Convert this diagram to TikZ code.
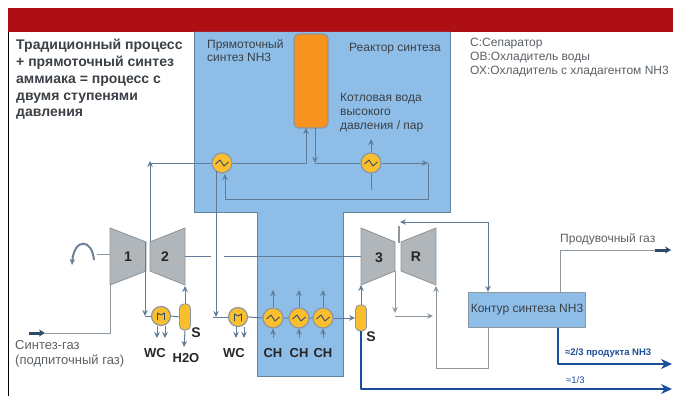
\documentclass[tikz,border=0pt]{standalone}
\usepackage{fontspec}
\setmainfont{Liberation Sans}
\usetikzlibrary{arrows.meta}
\definecolor{redbar}{HTML}{AE0F14}
\definecolor{blueback}{HTML}{8EBEE8}
\definecolor{blueedge}{HTML}{64859F}
\definecolor{pipe}{HTML}{5E7C98}
\definecolor{greypipe}{HTML}{8C979F}
\definecolor{bodygrey}{HTML}{B1B6BA}
\definecolor{orangebox}{HTML}{F7931E}
\definecolor{yellowbox}{HTML}{FBBF2D}
\definecolor{navy}{HTML}{1C4E9C}
\definecolor{darkpipe}{HTML}{2F4A68}
\definecolor{txt}{HTML}{3A4046}
\definecolor{lighttxt}{HTML}{5A6066}
\tikzset{
	pipeline/.style={draw=pipe, line width=1pt},
	greyline/.style={draw=greypipe, line width=1pt},
	mainline/.style={draw=navy, line width=2pt},
	exchanger/.style={circle, draw=greypipe, line width=1.2pt, fill=yellowbox, minimum size=20pt, inner sep=0pt,
		path picture={\draw[darkpipe, line width=0.9pt] (path picture bounding box.center)+(-6.5,1)--+(-2,-3)--+(2,3)--+(6.5,-1);}},
	cooler/.style={circle, draw=greypipe, line width=1.2pt, fill=yellowbox, minimum size=19pt, inner sep=0pt,
		path picture={\draw[darkpipe, line width=0.9pt] (path picture bounding box.center)+(-3.5,4)--+(-3.5,-3)--+(0,-1)--+(3.5,-3)--+(3.5,4);}},
	separator/.style={rectangle, rounded corners=4.5pt, draw=greypipe, fill=yellowbox, line width=0.9pt, minimum width=11pt, minimum height=26pt, inner sep=0pt},
	machine/.style={draw=greypipe, fill=bodygrey, line width=0.9pt},
	tag/.style={font=\bfseries\fontsize{13}{15}\selectfont, text=black!85, inner sep=0pt},
	num/.style={font=\bfseries\fontsize{14}{16}\selectfont, text=black!85, inner sep=0pt},
	note/.style={font=\fontsize{12}{14}\selectfont, text=txt, anchor=base west, inner sep=0pt},
}
\begin{document}
\begin{tikzpicture}[x=1pt, y=-1pt, line join=round, >={Stealth[length=6pt,width=5.5pt]}]
	\useasboundingbox (0,0) rectangle (673,396);
	% frame
	\fill[redbar] (8,8) rectangle (673,32);
	\draw[black, line width=0.9pt] (8,32)--(8,396);
	% reactor block
	\draw[fill=blueback, draw=blueedge, line width=0.9pt] (194,32)--(194,212)--(257,212)--(257,376)--(343,376)--(343,212)--(450,212)--(450,32);
	% texts
	\foreach \y/\t in {50/Традиционный процесс, 67/+ прямоточный синтез, 84/аммиака = процесс с, 101/двумя ступенями, 117/давления}
		\node[note, font=\bfseries\fontsize{14}{16}\selectfont] at (16,\y) {\t};
	\node[note] at (207,49) {Прямоточный};
	\node[note] at (207,62) {синтез NH3};
	\node[note] at (349,52) {Реактор синтеза};
	\node[note] at (340,102) {Котловая вода};
	\node[note] at (340,116) {высокого};
	\node[note] at (340,130) {давления / пар};
	\node[note, text=lighttxt] at (470,47) {C:Сепаратор};
	\node[note, text=lighttxt] at (470,61) {ОВ:Охладитель воды};
	\node[note, text=lighttxt] at (470,75) {ОХ:Охладитель с хладагентом NH3};
	% vessels
	\node[rectangle, rounded corners=5pt, draw=greypipe, fill=orangebox, line width=1.2pt, minimum width=34pt, minimum height=94pt, inner sep=0pt] (reactor) at (311,81) {};
	\node[exchanger] (hxa) at (222,163) {};
	\node[exchanger] (hxb) at (371,163) {};
	\node[cooler] (wca) at (161,316) {};
	\node[separator] (sepa) at (185,317) {};
	\node[cooler] (wcb) at (238,317) {};
	\node[separator] (sepb) at (361,318) {};
	\foreach \n/\x in {cha/273,chb/299,chc/323}{
		\node[exchanger] (\n) at (\x,318) {};
		\node[tag] at (\x,353) {CH};
		\coordinate (\n top) at (\x,290);
		\coordinate (\n low) at (\x,338);
		\draw[pipeline,->] (\n.north)--(\n top);
		\draw[pipeline,->] (\n low)--(\n.south);
	}
	% compressors
	\draw[machine] (110,228)--(146,242)--(146,271)--(110,285)--cycle;
	\draw[machine] (150,242)--(185,228)--(185,285)--(150,271)--cycle;
	\draw[machine] (361,228)--(395,242)--(395,271)--(361,285)--cycle;
	\draw[machine] (401,242)--(436,228)--(436,285)--(401,271)--cycle;
	\node[num] (one) at (128,257) {1};
	\node[num] (two) at (165,257) {2};
	\node[num] (three) at (379,258) {3};
	\node[num] (rec) at (416,257) {R};
	% loop
	\node[rectangle, draw=greypipe, fill=blueback, line width=1.2pt, minimum width=117pt, minimum height=35pt, inner sep=0pt, font=\fontsize{12}{14}\selectfont, text=txt] (loop) at (527,310) {Контур синтеза NH3};
	% labels
	\node[tag] at (155,353) {WC};
	\node[tag] at (186,358) {H2O};
	\node[tag, font=\bfseries\fontsize{14}{16}\selectfont] at (196,333) {S};
	\node[tag] at (234,353) {WC};
	\node[tag, font=\bfseries\fontsize{14}{16}\selectfont] at (371,337) {S};
	\node[note, font=\fontsize{13}{15}\selectfont, text=lighttxt] at (15,349) {Синтез-газ};
	\node[note, font=\fontsize{13}{15}\selectfont, text=lighttxt] at (15,364) {(подпиточный газ)};
	\node[note, text=lighttxt] at (560,242) {Продувочный газ};
	\node[note, font=\bfseries\fontsize{9.5}{11}\selectfont, text=navy] at (565,355) {≈2/3 продукта NH3};
	\node[note, font=\fontsize{9.5}{11}\selectfont, text=navy] at (566,383) {≈1/3};
	% free ends
	\coordinate (feed) at (29,333);
	\coordinate (feedb) at (45,333);
	\coordinate (shafta) at (150,242);
	\coordinate (shaftb) at (145,242);
	\coordinate (purge) at (655,250);
	\coordinate (purgeb) at (671,250);
	% gas lines
	\draw[darkpipe, line width=3pt, -{Stealth[length=6pt,width=7pt]}] (feed)--(feedb);
	\draw[greyline] (feedb)--(110,333)--(110,285);
	\draw[greyline] (97,254)--(110,254);
	\draw[darkpipe!70, line width=2pt, ->] (94,260) .. controls (92,238) and (74,238) .. (72,265);
	\draw[pipeline,->] (hxa.west)--(150,163)--(150,161);
	\draw[pipeline] (150,163)--(shafta);
	\draw[pipeline,->] (shaftb)--(145,316);
	\draw[pipeline] (145,316)--(wca.west);
	\draw[pipeline] (wca.east)--(sepa.west);
	\draw[pipeline,->] (sepa.north)--(185,286);
	\draw[pipeline,->] (sepa.south)--(184,347);
	\draw[pipeline,->] ([xshift=-4pt]wca.south)--(157,338);
	\draw[pipeline,->] ([xshift=4pt]wca.south)--(165,338);
	\draw[pipeline,->] ([xshift=-2pt]wcb.south)--(236,338);
	\draw[pipeline,->] ([xshift=6pt]wcb.south)--(244,338);
	% reactor lines
	\draw[pipeline,->] (hxa.east)--(306,163)--(306,128);
	\draw[pipeline,->] (315,128)--(315,163);
	\draw[pipeline] (315,163)--(hxb.west);
	\draw[pipeline,->] (hxb.east)--(428,163);
	\draw[pipeline,->] (428,163)--(428,199)--(225,199)--(225,174);
	\draw[pipeline,->] (hxb.north)--(371,139);
	\draw[pipeline] (hxb.south)--(371,190);
	\draw[pipeline,->] (216,171)--(216,317);
	\draw[pipeline] (213,317)--(wcb.west);
	\draw[pipeline] (wcb.east)--(cha.west) (cha.east)--(chb.west) (chb.east)--(chc.west);
	\draw[pipeline,->] (chc.east)--(sepb.west);
	\draw[pipeline] (185,256)--(211,256) (224,256)--(361,256);
	\draw[pipeline,->] (sepb.north)--(361,285);
	% recycle lines
	\draw[greyline, line width=1.8pt] (399,243)--(399,226);
	\draw[pipeline,->] (488,222)--(400,222);
	\draw[pipeline,->] (488,222)--(loop.north-|488,0);
	\draw[greyline,->] (395,271)--(395,313);
	\draw[greyline,->] (395,316)--(433,316);
	\draw[greyline,->] (loop.south-|488,0)--(488,368)--(436,368)--(436,286);
	\draw[greyline] (loop.north-|560,0)--(560,250)--(purge);
	\draw[darkpipe, line width=3pt, -{Stealth[length=6pt,width=7pt]}] (purge)--(purgeb);
	% product lines
	\draw[mainline, -{Stealth[length=11pt,width=10pt]}] (loop.south-|558,0)--(558,364)--(672,364);
	\draw[mainline, -{Stealth[length=11pt,width=10pt]}] (sepb.south)--(361,389)--(672,389);
\end{tikzpicture}
\end{document}
